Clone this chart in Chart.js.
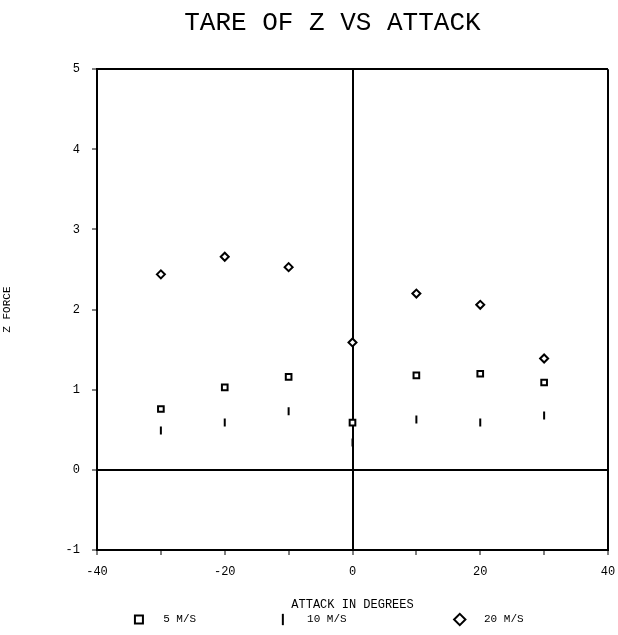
<!DOCTYPE html>
<html>
<head>
<meta charset="utf-8">
<script src="https://cdn.jsdelivr.net/npm/chart.js@4.4.1/dist/chart.umd.min.js"></script>
<style>
  html, body { margin: 0; padding: 0; background: #ffffff; }
  #wrap { width: 618px; height: 635px; }
</style>
</head>
<body>
<div id="wrap"><canvas id="tare"></canvas></div>
<script>
// angle of attack, degrees
const attack = [-30, -20, -10, 0, 10, 20, 30];

// Z force tare per tunnel speed
const tare5 = [0.76, 1.03, 1.16, 0.59, 1.18, 1.20, 1.09];
const tare10 = [0.49, 0.59, 0.73, 0.34, 0.63, 0.59, 0.68];
const tare20 = [2.44, 2.66, 2.53, 1.59, 2.20, 2.06, 1.39];

const seriesLabels = ['5 M/S', '10 M/S', '20 M/S'];

const xTicks = [-40, -20, 0, 20, 40];
const yRange = [-1, 5];

const mono = 'Liberation Mono, DejaVu Sans Mono, monospace';

// the legend entries sit far apart, so each text is widened with blanks
const legendLead = [2, 2, 2];
const legendTrail = [12, 16, 14];

function toPoints(values) {
    return attack.map((a, i) => ({ x: a, y: values[i] }));
}

// only the zero lines and the far edges of the frame are drawn
function frameColor(ctx, hi) {
    const v = ctx.tick.value;
    return (v === 0 || v === hi) ? '#000000' : 'rgba(0,0,0,0)';
}

const ctx = document.getElementById('tare').getContext('2d');

new Chart(ctx, {
    type: 'scatter',
    data: {
        datasets: [
            {
                label: seriesLabels[0],
                data: toPoints(tare5),
                pointStyle: 'rect',
                pointRadius: 4,
                pointBorderWidth: 2,
                borderColor: '#000000',
                backgroundColor: '#ffffff'
            },
            {
                label: seriesLabels[1],
                data: toPoints(tare10),
                pointStyle: 'line',
                pointRotation: 90,
                pointRadius: 4,
                pointBorderWidth: 2,
                borderColor: '#000000',
                backgroundColor: '#000000'
            },
            {
                label: seriesLabels[2],
                data: toPoints(tare20),
                pointStyle: 'rectRot',
                pointRadius: 4,
                pointBorderWidth: 2,
                borderColor: '#000000',
                backgroundColor: '#ffffff'
            }
        ]
    },
    options: {
        responsive: true,
        maintainAspectRatio: false,
        animation: false,
        layout: {
            padding: { top: 0, right: 0, bottom: 0, left: 0 }
        },
        plugins: {
            title: {
                display: true,
                text: '   TARE OF Z VS ATTACK',
                color: '#000000',
                font: { family: mono, size: 26, weight: 'normal' },
                padding: { top: 8, bottom: 30 }
            },
            legend: {
                position: 'bottom',
                align: 'end',
                labels: {
                    color: '#000000',
                    font: { family: mono, size: 11 },
                    usePointStyle: true,
                    boxHeight: 8,
                    padding: 2,
                    generateLabels: (chart) => {
                        const items = Chart.defaults.plugins.legend.labels.generateLabels(chart);
                        items.forEach((item, i) => {
                            item.text = ' '.repeat(legendLead[i]) + item.text + ' '.repeat(legendTrail[i]);
                        });
                        return items;
                    }
                }
            },
            tooltip: { enabled: false }
        },
        scales: {
            x: {
                type: 'linear',
                min: -40,
                max: 40,
                afterFit: (scale) => {
                    scale.height = 62;
                    scale.paddingRight = 10;
                },
                border: { display: true, color: '#000000', width: 2 },
                grid: {
                    color: (c) => frameColor(c, 40),
                    lineWidth: 2,
                    drawTicks: true,
                    tickLength: 5,
                    tickColor: '#000000',
                    tickWidth: 1
                },
                ticks: {
                    stepSize: 10,
                    maxRotation: 0,
                    color: '#000000',
                    font: { family: mono, size: 12 },
                    padding: 10,
                    callback: (v) => xTicks.includes(v) ? String(v) : ''
                },
                title: {
                    display: true,
                    text: 'ATTACK IN DEGREES',
                    color: '#000000',
                    font: { family: mono, size: 12 },
                    padding: { top: 8, bottom: 0 }
                }
            },
            y: {
                min: yRange[0],
                max: yRange[1],
                afterFit: (scale) => { scale.width = 97; },
                border: { display: true, color: '#000000', width: 2 },
                grid: {
                    color: (c) => frameColor(c, yRange[1]),
                    lineWidth: 2,
                    drawTicks: true,
                    tickLength: 5,
                    tickColor: '#000000',
                    tickWidth: 1
                },
                ticks: {
                    stepSize: 1,
                    color: '#000000',
                    font: { family: mono, size: 12 },
                    padding: 12
                },
                title: {
                    display: true,
                    text: 'Z FORCE',
                    color: '#000000',
                    font: { family: mono, size: 11 },
                    padding: { top: 0, bottom: 0 }
                }
            }
        }
    }
});
</script>
</body>
</html>
